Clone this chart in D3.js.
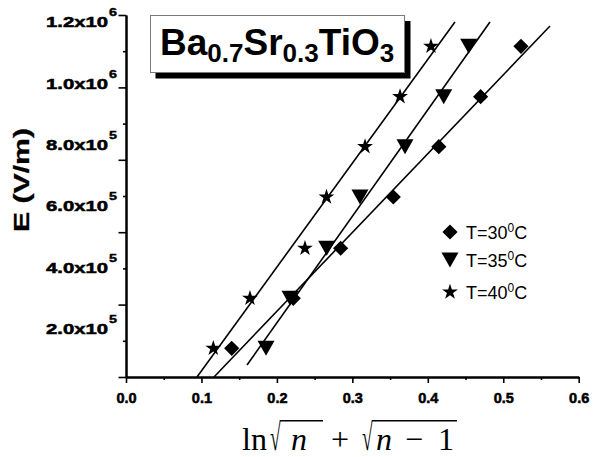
<!DOCTYPE html>
<html>
<head>
<meta charset="utf-8">
<script src="https://d3js.org/d3.v7.min.js"></script>
<style>
  body { margin: 0; background: #fff; }
  svg { display: block; }
</style>
</head>
<body>
<script>
// E values shared by the three temperatures (V/m)
const eField = [1.36e5, 2.99e5, 4.62e5, 6.29e5, 7.93e5, 9.56e5, 1.12e6]
// ln(sqrt(n) + sqrt(n-1)) for each temperature
const xT30 = [0.1401, 0.2217, 0.2845, 0.3543, 0.4146, 0.4700, 0.5235]
const xT35 = [0.1856, 0.2174, 0.2660, 0.3101, 0.3698, 0.4211, 0.4542]
const xT40 = [0.1157, 0.1643, 0.2372, 0.2657, 0.3168, 0.3632, 0.4042]
// fitted straight lines, ends: [x, E]
const fit30 = [[0.1166, 4.27e4], [0.5620, 1.186e6]]
const fit35 = [[0.1604, 8.18e4], [0.4824, 1.199e6]]
const fit40 = [[0.0941, 4.27e4], [0.4360, 1.199e6]]
const legendTemps = ['30', '35', '40']

const xMajorTicks = [0, 0.1, 0.2, 0.3, 0.4, 0.5, 0.6]
const xMinorTicks = [0.05, 0.15, 0.25, 0.35, 0.45, 0.55]
const xTickLabels = ['0.0', '0.1', '0.2', '0.3', '0.4', '0.5', '0.6']
const yLabelValues = [2e5, 4e5, 6e5, 8e5, 1e6, 1.2e6]
const yLabelMantissa = ['2.0', '4.0', '6.0', '8.0', '1.0', '1.2']
const yLabelExp = ['5', '5', '5', '5', '6', '6']
const yDomain = [4.27e4, 1.222e6]

const width = 606
const height = 457
const sans = '"Liberation Sans", Arial, sans-serif'
const serif = '"Liberation Serif", "Times New Roman", serif'

const svg = d3.select('body')
  .append('svg')
  .attr('width', width)
  .attr('height', height)

const x = d3.scaleLinear()
  .domain([0, 0.6])
  .range([126, 578.7])

const y = d3.scaleLinear()
  .domain(yDomain)
  .range([377, 15])

// y tick marks: ten equal steps along the axis, long and short alternating
const yTicks = d3.range(11).map((i) => yDomain[0] + i * (yDomain[1] - yDomain[0]) / 10)
const yMajor = yTicks.filter((d, i) => i % 2 === 0)
const yMinor = yTicks.filter((d, i) => i % 2 === 1)

// heavy bold face for the numbers
const boldText = (sel, size) => sel
  .attr('fill', '#000')
  .attr('stroke', '#000')
  .attr('stroke-width', 0.55)
  .style('font-family', sans)
  .style('font-weight', 'bold')
  .style('font-size', size + 'px')

const styleAxis = (g) => {
  g.attr('font-family', null).attr('font-size', null)
  g.selectAll('path').attr('stroke', '#000').attr('stroke-width', 2)
  g.selectAll('line').attr('stroke', '#000').attr('stroke-width', 1.6)
  g.selectAll('text').call(boldText, 14.5)
}

svg.append('g')
  .attr('transform', `translate(0, ${y.range()[0]})`)
  .call(d3.axisBottom(x).tickValues(xMinorTicks).tickSize(3).tickSizeOuter(0).tickFormat(''))
  .call(styleAxis)

svg.append('g')
  .attr('transform', `translate(0, ${y.range()[0]})`)
  .call(d3.axisBottom(x).tickValues(xMajorTicks).tickSize(6).tickSizeOuter(0).tickPadding(10)
    .tickFormat((d, i) => xTickLabels[i]))
  .call(styleAxis)

svg.append('g')
  .attr('transform', `translate(${x.range()[0]}, 0)`)
  .call(d3.axisLeft(y).tickValues(yMinor).tickSize(3).tickSizeOuter(0).tickFormat(''))
  .call(styleAxis)

svg.append('g')
  .attr('transform', `translate(${x.range()[0]}, 0)`)
  .call(d3.axisLeft(y).tickValues(yMajor).tickSize(7.5).tickSizeOuter(0).tickFormat(''))
  .call(styleAxis)

// y labels sit at their own values, in a wide bold face
const yLab = svg.append('g')
  .selectAll('g')
  .data(yLabelValues)
  .join('g')

yLab.append('text')
  .attr('x', 46)
  .attr('y', (d) => y(d) + 5.5)
  .attr('textLength', 62)
  .attr('lengthAdjust', 'spacingAndGlyphs')
  .call(boldText, 15.5)
  .text((d, i) => yLabelMantissa[i] + 'x10')

yLab.append('text')
  .attr('x', 109)
  .attr('y', (d) => y(d) + 5.5 - 11)
  .attr('textLength', 8)
  .attr('lengthAdjust', 'spacingAndGlyphs')
  .call(boldText, 11)
  .attr('stroke-width', 0.4)
  .text((d, i) => yLabelExp[i])

svg.append('text')
  .attr('transform', 'translate(29, 180) rotate(-90)')
  .attr('text-anchor', 'middle')
  .attr('textLength', 104)
  .attr('lengthAdjust', 'spacingAndGlyphs')
  .call(boldText, 22)
  .attr('stroke-width', 0.3)
  .text('E (V/m)')

// fitted lines
const line = d3.line()
  .x((d) => x(d[0]))
  .y((d) => y(d[1]))

svg.append('g')
  .selectAll('path')
  .data([fit30, fit35, fit40])
  .join('path')
  .attr('d', line)
  .attr('fill', 'none')
  .attr('stroke', '#000')
  .attr('stroke-width', 1.6)

// markers
const diamond = d3.symbol(d3.symbolSquare, 115)()
const triDown = 'M-8.5,-7.5L8.5,-7.5L0,7.5Z'
const star = d3.symbol(d3.symbolStar, 78)()
const shapes = [
  { xs: xT30, d: diamond, rot: 45 },
  { xs: xT35, d: triDown, rot: 0 },
  { xs: xT40, d: star, rot: 0 }
]

shapes.forEach((s) => {
  svg.append('g')
    .selectAll('path')
    .data(s.xs.map((v, i) => [v, eField[i]]))
    .join('path')
    .attr('d', s.d)
    .attr('fill', '#000')
    .attr('transform', (d) => `translate(${x(d[0])}, ${y(d[1])}) rotate(${s.rot})`)
})

// legend
const legendY = [232, 260, 292]
const leg = svg.append('g')
  .selectAll('g')
  .data(legendTemps)
  .join('g')
  .attr('transform', (d, i) => `translate(450, ${legendY[i]})`)

leg.append('path')
  .attr('d', (d, i) => shapes[i].d)
  .attr('fill', '#000')
  .attr('transform', (d, i) => `rotate(${shapes[i].rot})`)

const legText = leg.append('text')
  .attr('x', 16)
  .attr('y', 6.5)
  .style('font-family', sans)
  .style('font-size', '18px')

legText.append('tspan').text((d) => `T=${d}`)
legText.append('tspan').attr('dy', -7).style('font-size', '12px').text('0')
legText.append('tspan').attr('dy', 7).text('C')

// title box with drop shadow
svg.append('rect')
  .attr('x', 155.5).attr('y', 21)
  .attr('width', 255).attr('height', 57.5)
  .attr('fill', '#000')

svg.append('rect')
  .attr('x', 150.5).attr('y', 15.5)
  .attr('width', 254).attr('height', 57)
  .attr('fill', '#fff')
  .attr('stroke', '#7a7a7a')
  .attr('stroke-width', 1)

const title = svg.append('text')
  .attr('x', 160)
  .attr('y', 55)
  .style('font-family', sans)
  .style('font-weight', 'bold')
  .style('font-size', '37px')

const titleParts = [['Ba', 0], ['0.7', 1], ['Sr', 0], ['0.3', 1], ['TiO', 0], ['3', 1]]
let lastSub = 0
titleParts.forEach(([t, sub]) => {
  title.append('tspan')
    .attr('dy', (sub - lastSub) * 7)
    .style('font-size', sub ? '26px' : '37px')
    .text(t)
  lastSub = sub
})

// x title: ln(sqrt(n) + sqrt(n-1)), a tall narrow root sign joined to its bar
const fs = 32
const base = 450
const barTop = 420
const ctx = document.createElement('canvas').getContext('2d')
ctx.font = `${fs}px "Liberation Serif"`
const root = ctx.measureText('\u221A')
const sx = 0.6
const sy = (base - barTop) / root.actualBoundingBoxAscent

const xt = svg.append('g')
  .style('font-family', serif)
  .style('font-size', fs + 'px')

const pieces = [
  ['ln', 242, 'normal'],
  ['n', 291, 'italic'],
  ['+', 331, 'normal'],
  ['n', 376, 'italic'],
  ['\u2212', 405, 'normal'],
  ['1', 438, 'normal']
]

pieces.forEach(([t, px, st]) => {
  xt.append('text')
    .attr('x', px)
    .attr('y', base)
    .style('font-style', st)
    .text(t)
})

const roots = [[270, 323], [362, 457]]

xt.selectAll('text.root')
  .data(roots)
  .join('text')
  .attr('class', 'root')
  .attr('transform', (d) => `translate(${d[0]}, ${base}) scale(${sx}, ${sy})`)
  .text('\u221A')

xt.selectAll('line')
  .data(roots)
  .join('line')
  .attr('x1', (d) => d[0] + root.actualBoundingBoxRight * sx - 1)
  .attr('x2', (d) => d[1])
  .attr('y1', barTop + 0.8)
  .attr('y2', barTop + 0.8)
  .attr('stroke', '#000')
  .attr('stroke-width', 1.5)
</script>
</body>
</html>
